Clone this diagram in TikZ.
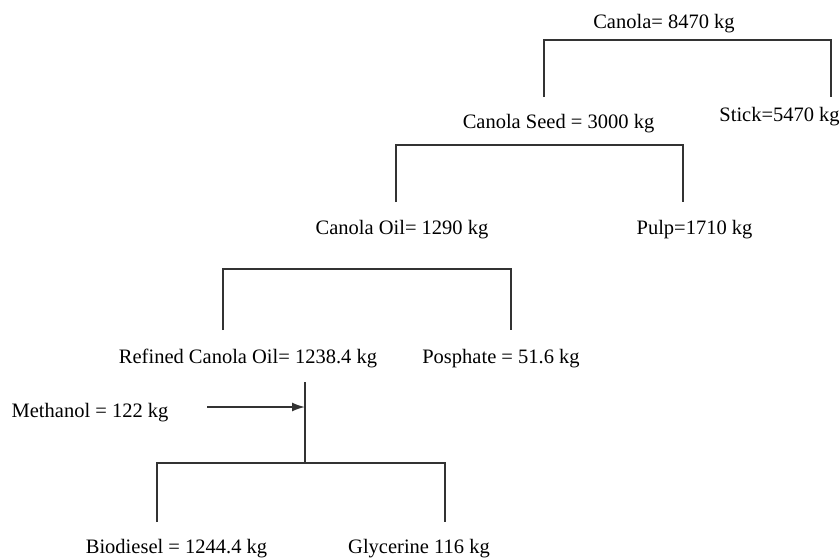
\documentclass[tikz,border=0pt]{standalone}
\usepackage{fontspec}
\setmainfont{Liberation Serif}
\usetikzlibrary{arrows.meta}
\begin{document}
\begin{tikzpicture}[x=0.5pt,y=-0.5pt,
  lbl/.style={inner sep=0pt,anchor=base,font=\fontsize{10.25}{12}\selectfont},
  link/.style={draw=black!80,line width=0.85pt},
  feed/.style={link,-{Latex[length=6.5pt,width=4.5pt]}}]
\useasboundingbox (0,0) rectangle (840,557);
% labels
\node[lbl] (canola) at (664,28) {Canola= 8470 kg};
\node[lbl] (seed) at (558.5,128) {Canola Seed = 3000 kg};
\node[lbl,anchor=base west] (stick) at (719,121) {Stick=5470 kg};
\node[lbl] (oil) at (402,234) {Canola Oil= 1290 kg};
\node[lbl] (pulp) at (694.5,234) {Pulp=1710 kg};
\node[lbl] (refined) at (248,363) {Refined Canola Oil= 1238.4 kg};
\node[lbl] (posph) at (501,363) {Posphate = 51.6 kg};
\node[lbl] (meth) at (90,417) {Methanol = 122 kg};
\node[lbl] (bio) at (176.5,553) {Biodiesel = 1244.4 kg};
\node[lbl] (gly) at (419,553) {Glycerine 116 kg};
% coordinates of the brackets
\coordinate (a1) at (544,97);  \coordinate (a2) at (831,97);
\coordinate (b1) at (396,202); \coordinate (b2) at (683,202);
\coordinate (c1) at (223,330); \coordinate (c2) at (511,330);
\coordinate (d0) at (305,382); \coordinate (dj) at (305,463);
\coordinate (d1) at (157,522); \coordinate (d2) at (445,522);
\coordinate (mstart) at (207,407); \coordinate (mend) at (305,407);
% brackets
\draw[link] (a1) -- (544,40) -- (831,40) -- (a2);
\draw[link] (b1) -- (396,145) -- (683,145) -- (b2);
\draw[link] (c1) -- (223,269) -- (511,269) -- (c2);
\draw[link] (d0) -- (dj);
\draw[link] (d1) -- (157,463) -- (445,463) -- (d2);
\draw[feed] (mstart) -- (mend);
\end{tikzpicture}
\end{document}
